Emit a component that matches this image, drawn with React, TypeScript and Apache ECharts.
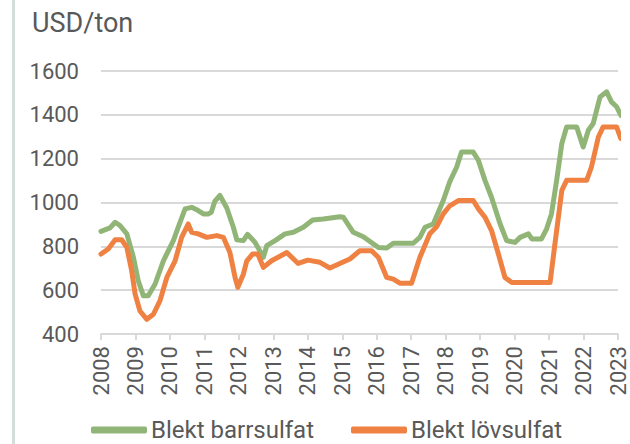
import React, { useEffect, useRef } from "react";
import * as echarts from "echarts";

const yTicks = [400, 600, 800, 1000, 1200, 1400, 1600];
const xYears = [2008, 2009, 2010, 2011, 2012, 2013, 2014, 2015, 2016, 2017, 2018, 2019, 2020, 2021, 2022, 2023];
const seriesNames = ["Blekt barrsulfat", "Blekt lövsulfat"];

const barrDates = [
  2008.0, 2008.26, 2008.41, 2008.55, 2008.75, 2008.94, 2009.08, 2009.23, 2009.37, 2009.57,
  2009.81, 2010.1, 2010.24, 2010.44, 2010.63, 2010.82, 2010.97, 2011.11, 2011.2, 2011.3,
  2011.45, 2011.65, 2011.84, 2011.94, 2012.13, 2012.25, 2012.47, 2012.71, 2012.81, 2013.05,
  2013.34, 2013.58, 2013.87, 2014.14, 2014.45, 2014.93, 2015.03, 2015.32, 2015.61, 2016.05,
  2016.29, 2016.48, 2017.06, 2017.25, 2017.4, 2017.64, 2017.93, 2018.12, 2018.32, 2018.46,
  2018.8, 2018.95, 2019.14, 2019.33, 2019.58, 2019.77, 2020.01, 2020.16, 2020.4, 2020.5,
  2020.78, 2020.93, 2021.07, 2021.22, 2021.37, 2021.51, 2021.8, 2021.99, 2022.14, 2022.28,
  2022.48, 2022.67, 2022.81, 2022.96, 2023.08,
];
const barrValues = [
  868, 884, 910, 895, 857, 750, 643, 574, 574, 628,
  734, 826, 887, 971, 978, 963, 948, 948, 955, 1005,
  1032, 975, 887, 830, 826, 855, 818, 750, 803, 826,
  857, 864, 887, 920, 925, 935, 933, 864, 844, 795,
  792, 814, 814, 841, 887, 902, 1009, 1095, 1162, 1230,
  1230, 1192, 1101, 1024, 902, 826, 818, 841, 857, 834,
  834, 880, 948, 1101, 1269, 1345, 1345, 1253, 1330, 1360,
  1482, 1505, 1459, 1437, 1398,
];

const lovDates = [
  2008.0, 2008.21, 2008.41, 2008.6, 2008.75, 2008.89, 2008.99, 2009.13, 2009.33, 2009.52,
  2009.71, 2009.91, 2010.15, 2010.34, 2010.53, 2010.63, 2010.82, 2011.07, 2011.36, 2011.55,
  2011.74, 2011.89, 2011.97, 2012.13, 2012.23, 2012.4, 2012.55, 2012.71, 2012.95, 2013.39,
  2013.72, 2014.0, 2014.35, 2014.64, 2014.93, 2015.22, 2015.51, 2015.85, 2016.05, 2016.29,
  2016.48, 2016.67, 2017.01, 2017.25, 2017.54, 2017.74, 2017.93, 2018.12, 2018.37, 2018.8,
  2018.95, 2019.14, 2019.33, 2019.53, 2019.72, 2019.92, 2021.03, 2021.17, 2021.37, 2021.51,
  2022.09, 2022.23, 2022.43, 2022.57, 2022.96, 2023.08,
];
const lovValues = [
  765, 788, 830, 830, 795, 689, 582, 505, 467, 490,
  551, 658, 734, 841, 902, 864, 857, 841, 849, 841,
  772, 658, 613, 673, 734, 765, 765, 704, 734, 772,
  722, 737, 727, 701, 722, 742, 780, 780, 749, 658,
  650, 632, 632, 749, 857, 890, 948, 985, 1009, 1009,
  971, 933, 872, 765, 658, 635, 635, 811, 1055, 1101,
  1101, 1162, 1299, 1345, 1345, 1292,
];

const GREEN = "#91B577";
const ORANGE = "#EF8243";
const TEXT = "#595959";
const FONT = "Roboto";

export default function App() {
  const ref = useRef<HTMLDivElement>(null);
  useEffect(() => {
    if (!ref.current) return;
    const chart = echarts.init(ref.current, null, { renderer: "svg" });
    const pair = (xs: number[], ys: number[]) => xs.map((x, i) => [x, ys[i]]);
    chart.setOption({
      animation: false,
      backgroundColor: "#ffffff",
      textStyle: { fontFamily: FONT },
      title: {
        text: "USD/ton",
        left: 32,
        top: 9,
        padding: 0,
        textStyle: { fontFamily: FONT, fontSize: 27, fontWeight: "normal", color: TEXT },
      },
      graphic: [
        {
          type: "rect",
          shape: { x: 12, y: 0, width: 3, height: 444 },
          style: { fill: "#D3DEDB" },
          silent: true,
        },
      ],
      legend: {
        left: 91,
        top: 418,
        itemWidth: 56,
        itemHeight: 7,
        itemGap: 37,
        icon: "roundRect",
        padding: 0,
        data: seriesNames,
        textStyle: { fontFamily: FONT, fontSize: 24, color: TEXT, padding: [0, 0, 0, -1] },
      },
      grid: { left: 101, right: 12, top: 71, bottom: 110, containLabel: false },
      xAxis: {
        type: "value",
        min: xYears[0],
        max: xYears[xYears.length - 1],
        interval: 1,
        axisLine: { show: true, lineStyle: { color: "#D9D9D9", width: 2 } },
        axisTick: { show: true, length: 6, lineStyle: { color: "#D9D9D9", width: 2 } },
        splitLine: { show: false },
        axisLabel: {
          rotate: 90,
          margin: 12,
          fontFamily: FONT,
          fontSize: 22,
          color: TEXT,
          formatter: (v: number) => String(Math.round(v)),
        },
      },
      yAxis: {
        type: "value",
        min: yTicks[0],
        max: yTicks[yTicks.length - 1],
        interval: 200,
        axisLine: { show: false },
        axisTick: { show: false },
        splitLine: { show: true, lineStyle: { color: "#D9D9D9", width: 2 } },
        axisLabel: {
          margin: 22,
          fontFamily: FONT,
          fontSize: 22,
          color: TEXT,
          formatter: (v: number) => String(v),
        },
      },
      series: [
        {
          name: seriesNames[0],
          type: "line",
          data: pair(barrDates, barrValues),
          showSymbol: false,
          clip: false,
          lineStyle: { color: GREEN, width: 5, join: "round", cap: "round" },
          itemStyle: { color: GREEN },
          z: 2,
        },
        {
          name: seriesNames[1],
          type: "line",
          data: pair(lovDates, lovValues),
          showSymbol: false,
          clip: false,
          lineStyle: { color: ORANGE, width: 5, join: "round", cap: "round" },
          itemStyle: { color: ORANGE },
          z: 3,
        },
      ],
    });
    return () => chart.dispose();
  }, []);
  return <div ref={ref} style={{ width: 630, height: 444, position: "absolute", left: 0, top: 0 }} />;
}
